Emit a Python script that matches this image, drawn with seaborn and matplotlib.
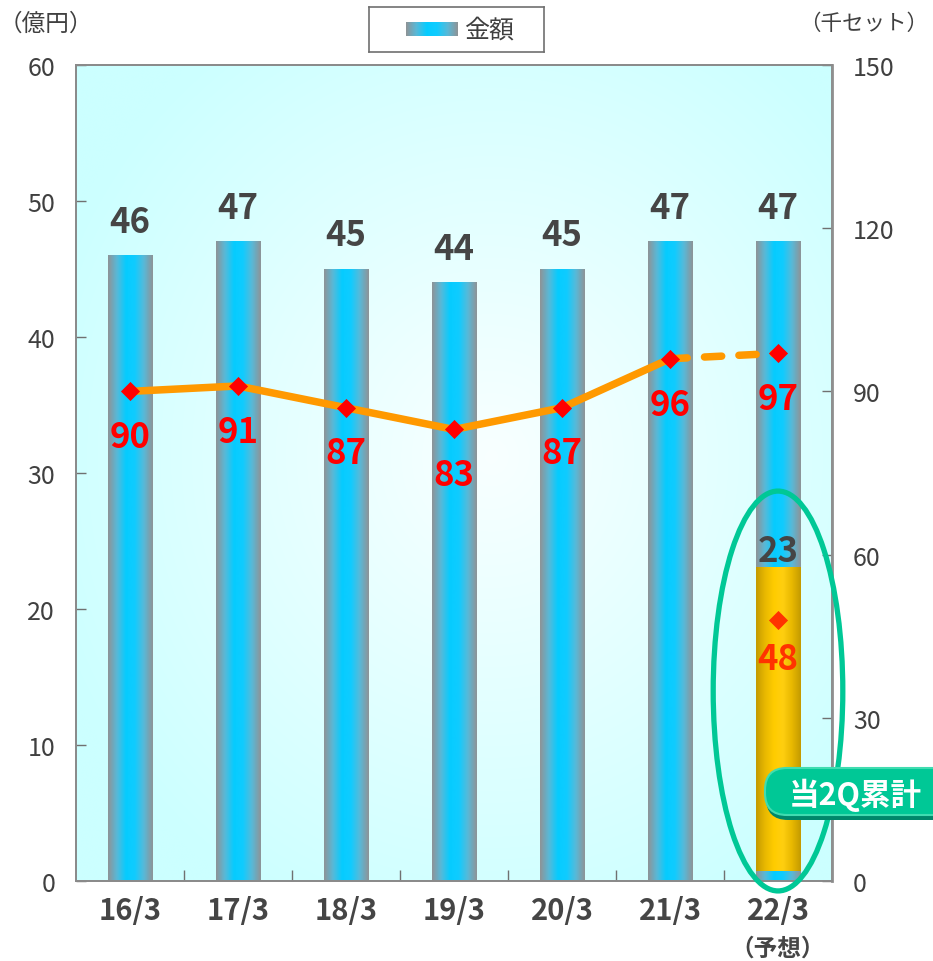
import numpy as np
import pandas as pd
import matplotlib
matplotlib.use("Agg")
import matplotlib.pyplot as plt
import seaborn as sns
from matplotlib.colors import LinearSegmentedColormap
from matplotlib.patches import Ellipse, FancyBboxPatch
from matplotlib.transforms import blended_transform_factory

# ---------------- data ----------------
categories = ["16/3", "17/3", "18/3", "19/3", "20/3", "21/3", "22/3"]
amounts = [46, 47, 45, 44, 45, 47, 47]          # 金額（億円）
sets = [90, 91, 87, 83, 87, 96, 97]             # 千セット
half_amount = 23                                 # 当2Q累計 金額
half_sets = 48                                   # 当2Q累計 千セット
left_ticks = [0, 10, 20, 30, 40, 50, 60]
right_ticks = [0, 30, 60, 90, 120, 150]
forecast_label = "（予想）"
badge_label = "当2Q累計"

# ---------------- style ----------------
sns.set_theme(style="white")
plt.rcParams["font.family"] = ["Noto Sans CJK JP", "DejaVu Sans"]

W, H = 933, 962
fig = plt.figure(figsize=(W / 100, H / 100), dpi=100)
fig.patch.set_facecolor("white")
ax_rect = [76 / W, (H - 882) / H, (832 - 76) / W, (882 - 66) / H]
ax = fig.add_axes(ax_rect)

# background radial gradient
ny, nx = 300, 300
yy, xx = np.mgrid[0:1:ny * 1j, 0:1:nx * 1j]
r = np.sqrt(((xx - 0.55) / 0.62) ** 2 + ((yy - 0.52) / 0.62) ** 2)
t = np.clip(r, 0, 1) ** 1.0
c0 = np.array([0.975, 1.0, 1.0])
c1 = np.array([0.80, 1.0, 1.0])
bg = c0 + (c1 - c0) * t[..., None]
ax.imshow(bg, extent=[0, 1, 0, 1], transform=ax.transAxes, aspect="auto",
          zorder=0, origin="lower", interpolation="bicubic")

# bars
df = pd.DataFrame({"年度": categories, "金額": amounts})
sns.barplot(data=df, x="年度", y="金額", ax=ax, width=0.41, color="#33ccff",
            saturation=1, zorder=2)

bar_cmap = LinearSegmentedColormap.from_list(
    "bar", ["#8f9396", "#58b9d8", "#05ccff", "#10ccff", "#58b9d8", "#8f9396"])
gold_cmap = LinearSegmentedColormap.from_list(
    "gold", ["#c39a00", "#e8b800", "#ffcc00", "#ffcf10", "#e8b800", "#c39a00"])
grad = np.linspace(0, 1, 256).reshape(1, -1)

def gradient_fill(p, cmap, z):
    x0, y0 = p.get_x(), p.get_y()
    w, h = p.get_width(), p.get_height()
    ax.imshow(grad, cmap=cmap, extent=[x0, x0 + w, y0, y0 + h], aspect="auto",
              zorder=z, interpolation="bicubic")
    p.set_facecolor("none")
    p.set_edgecolor("none")

for p in list(ax.patches):
    gradient_fill(p, bar_cmap, 2.1)

# gold (当2Q累計) bar
gold_base = 0.7
gold = ax.bar(len(categories) - 1, half_amount - gold_base, bottom=gold_base,
              width=0.41, color="#ffcc00", zorder=2.2)
for p in gold.patches:
    gradient_fill(p, gold_cmap, 2.3)

ax.set_xlim(-0.5, len(categories) - 0.5)
ax.set_ylim(left_ticks[0], left_ticks[-1])
ax.set_xlabel("")
ax.set_ylabel("")

# bar value labels
for i, v in enumerate(amounts):
    ax.annotate(str(v), (i, v), xytext=(0, 12), textcoords="offset points",
                ha="center", va="bottom", fontsize=25, fontweight="bold",
                color="#454545", zorder=6)
ax.annotate(str(half_amount), (len(categories) - 1, half_amount), xytext=(0, 0),
            textcoords="offset points", ha="center", va="bottom", fontsize=25,
            fontweight="bold", color="#454545", zorder=6)

# ticks & spines (left)
ax.set_yticks(left_ticks)
ax.set_yticklabels([str(v) for v in left_ticks])
ax.tick_params(axis="y", direction="in", length=7, width=1, color="#707070",
               labelsize=18, labelcolor="#404040", pad=15, left=True)
ax.set_xticks(range(len(categories)))
ax.set_xticklabels(categories, fontsize=21, fontweight="bold", color="#454545")
ax.tick_params(axis="x", length=0, pad=10)
ax.set_xticks(np.arange(len(categories) - 1) + 0.5, minor=True)
ax.tick_params(axis="x", which="minor", direction="in", length=8, width=1,
               color="#707070", bottom=True)
for s in ax.spines.values():
    s.set_color("#8a8a8a")
    s.set_linewidth(1.3)
    s.set_visible(True)

# forecast label under last category
trans = blended_transform_factory(ax.transData, fig.transFigure)
ax.text(len(categories) - 1, 1 - 949 / H, forecast_label, transform=trans,
        ha="center", va="center", fontsize=17, fontweight="bold", color="#454545")

# ---------------- line (right axis) ----------------
ax2 = ax.twinx()
ax2.set_position(ax_rect)
xpos = np.arange(len(categories))
sns.lineplot(x=xpos[:-1], y=sets[:-1], ax=ax2, color="#ff9900", linewidth=5.4,
             solid_capstyle="round", solid_joinstyle="round", zorder=3)
sns.lineplot(x=xpos[-2:], y=sets[-2:], ax=ax2, color="#ff9900", linewidth=5.4,
             linestyle=(0, (2.3, 2.3)), dash_capstyle="round", zorder=3)
ax2.scatter(xpos, sets, marker="D", s=95, color="#ff0000", zorder=4, linewidths=0)
ax2.scatter([xpos[-1]], [half_sets], marker="D", s=95, color="#ff3300", zorder=4,
            linewidths=0)

for i, v in enumerate(sets):
    ax2.annotate(str(v), (i, v), xytext=(0, -20), textcoords="offset points",
                 ha="center", va="top", fontsize=25, fontweight="bold",
                 color="#ff0000", zorder=6)
ax2.annotate(str(half_sets), (xpos[-1], half_sets), xytext=(0, -15),
             textcoords="offset points", ha="center", va="top", fontsize=25,
             fontweight="bold", color="#ff3300", zorder=6)

ax2.set_ylim(right_ticks[0], right_ticks[-1])
ax2.set_yticks(right_ticks)
ax2.set_yticklabels([str(v) for v in right_ticks])
ax2.tick_params(axis="y", direction="in", length=7, width=1, color="#707070",
                labelsize=18, labelcolor="#404040", pad=15, right=True)
ax2.set_ylabel("")
ax2.grid(False)
ax.grid(False)
for s in ax2.spines.values():
    s.set_color("#8a8a8a")
    s.set_linewidth(1.3)
ax2.spines["right"].set_linewidth(2)
ax2.spines["right"].set_color("#8f8f8f")

# highlight ellipse around the half-year bar
ell = Ellipse((xpos[-1], 13.97), 1.2, 29.4, fill=False, edgecolor="#00c896",
              linewidth=3.8, zorder=7, clip_on=False)
ax2.add_artist(ell)
ell.set_transform(ax.transData)

# ---------------- unit labels ----------------
fig.text(46 / W, 1 - 24 / H, "（億円）", ha="center", va="center", fontsize=17,
         color="#404040")
fig.text(864 / W, 1 - 24 / H, "（千セット）", ha="center", va="center", fontsize=15.5,
         color="#404040")

# ---------------- legend ----------------
lax = fig.add_axes([369 / W, 1 - 53 / H, 175 / W, 45 / H])
lax.set_xticks([])
lax.set_yticks([])
lax.set_facecolor("white")
for s in lax.spines.values():
    s.set_color("#707070")
    s.set_linewidth(1.2)
lax.imshow(grad, cmap=bar_cmap, extent=[37, 89, 16, 30], aspect="auto")
lax.set_xlim(0, 175)
lax.set_ylim(0, 45)
lax.text(95, 22, "金額", ha="left", va="center", fontsize=18, color="#404040")

# ---------------- badge (overlay in pixel coords) ----------------
ov = fig.add_axes([0, 0, 1, 1], zorder=10)
ov.set_xlim(0, W)
ov.set_ylim(H, 0)
ov.axis("off")
ov.patch.set_alpha(0)
ov.add_patch(FancyBboxPatch((766, 773), 200, 48,
                            boxstyle="round,pad=0,rounding_size=22",
                            fc="#00876a", ec="none"))
ov.add_patch(FancyBboxPatch((765, 769), 200, 47,
                            boxstyle="round,pad=0,rounding_size=22",
                            fc="#00c896", ec="#40dcb0", lw=1.5))
ov.text(855, 795, badge_label, ha="center", va="center", fontsize=22,
        fontweight="bold", color="white")

fig.savefig("out.png", dpi=100, facecolor="white")
